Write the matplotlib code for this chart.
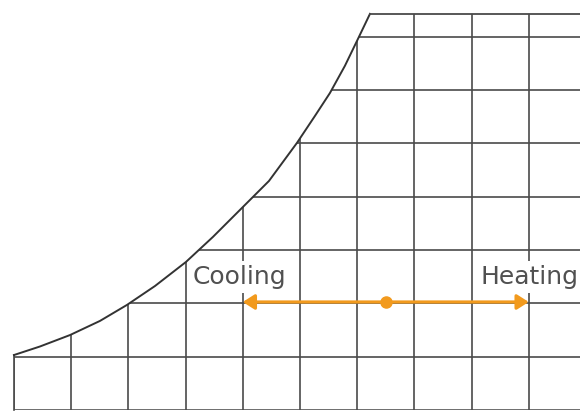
import numpy as np
import matplotlib
matplotlib.use("Agg")
import matplotlib.pyplot as plt
from matplotlib.patches import Polygon

# sketch of a psychrometric chart: sensible heating / cooling along a line of constant moisture

# grid: dry bulb temperature lines (C) and humidity ratio lines (g/kg)
temps = [0, 5, 10, 15, 20, 25, 30, 35, 40, 45]
humidity = [0, 2, 4, 6, 8, 10, 12, 14]
w_top = 14.86

# saturation curve
sat_t = [0, 2.27, 4.9, 7.52, 9.88, 12.33, 15.03, 17.39, 19.84, 22.29, 24.74, 26.31, 27.62, 28.93, 30.07, 31.12]
sat_w = [2.06, 2.38, 2.81, 3.34, 3.94, 4.65, 5.55, 6.49, 7.54, 8.59, 10.02, 11.03, 11.89, 12.91, 13.92, 14.86]

# the process: start state and the two end states
start_t, start_w = 32.5, 4.05
cool_t, heat_t = 20.0, 45.0

t_min, t_max = -1.22, 49.48
w_min, w_max = -0.19, 15.38

orange = "#F29A1D"
line_col = "#4a4a4a"

fig = plt.figure(figsize=(5.8, 4.15), dpi=100)
ax = fig.add_axes([0, 0, 1, 1])
ax.set_xlim(t_min, t_max)
ax.set_ylim(w_min, w_max)
ax.axis("off")

#chart outline: bottom, left edge, saturation curve, then flat top
outline = list(zip([t_max + 5, 0], [0, 0])) + list(zip(sat_t, sat_w)) + [(t_max + 5, w_top)]
region = Polygon(outline, closed=True, facecolor="none", edgecolor="none")
ax.add_patch(region)

#grid lines clipped to the chart region
for t in temps:
    ln, = ax.plot([t, t], [0, w_top], color=line_col, lw=1.2, zorder=1)
    ln.set_clip_path(region)
for w in humidity:
    ln, = ax.plot([0, t_max + 5], [w, w], color=line_col, lw=1.2, zorder=1)
    ln.set_clip_path(region)

# outline on top
ax.plot([0, 0], [0, sat_w[0]], color=line_col, lw=1.2, zorder=2)
ax.plot(sat_t, sat_w, color="#333333", lw=1.4, zorder=2)
ax.plot([sat_t[-1], t_max + 5], [w_top, w_top], color=line_col, lw=1.3, zorder=2)

#labels with white boxes
ax.text(15.65, 4.73, "Cooling", fontsize=18, color="#505050", ha="left", va="baseline",
        bbox=dict(facecolor="white", edgecolor="none", pad=3), zorder=3)
ax.text(40.82, 4.73, "Heating", fontsize=18, color="#505050", ha="left", va="baseline",
        bbox=dict(facecolor="white", edgecolor="none", pad=3), zorder=3)

#process arrows
style = "-|>,head_length=0.5,head_width=0.32"
for end_t in [cool_t, heat_t]:
    ax.annotate("", xy=(end_t, start_w), xytext=(start_t, start_w),
                arrowprops=dict(arrowstyle=style, color=orange, lw=2.3, mutation_scale=14,
                                shrinkA=0, shrinkB=0), zorder=4)
ax.plot([start_t], [start_w], "o", color=orange, ms=8, zorder=5)

fig.savefig("out.png", dpi=100)
